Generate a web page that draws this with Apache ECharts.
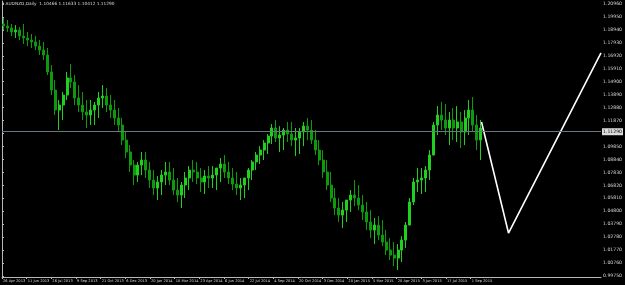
<!DOCTYPE html>
<html><head><meta charset="utf-8">
<script src="https://cdn.jsdelivr.net/npm/echarts@6/dist/echarts.min.js"></script>
<style>html,body{margin:0;padding:0;background:#000;}#c{width:625px;height:285px;}</style>
</head><body><div id="c"></div>
<script>
// Weekly OHLC (AUDNZD)
const weekOpen = [1.1940,1.1924,1.1909,1.1878,1.1893,1.1846,1.1831,1.1815,1.1800,1.1768,1.1737,1.1698,1.1566,1.1425,1.1269,1.1308,1.1386,1.1519,1.1488,1.1363,
1.1308,1.1254,1.1230,1.1269,1.1308,1.1363,1.1378,1.1308,1.1269,1.1207,1.1152,1.1035,1.0942,1.0840,1.0762,1.0840,1.0879,1.0801,1.0723,1.0661,
1.0708,1.0762,1.0786,1.0723,1.0645,1.0606,1.0684,1.0739,1.0801,1.0786,1.0739,1.0708,1.0754,1.0739,1.0762,1.0817,1.0848,1.0786,1.0739,1.0692,
1.0661,1.0684,1.0739,1.0801,1.0864,1.0918,1.0957,1.1012,1.1066,1.1129,1.1051,1.1074,1.1113,1.1082,1.1035,1.1051,1.1098,1.1144,1.1113,1.1035,
1.0957,1.0879,1.0786,1.0684,1.0583,1.0505,1.0450,1.0489,1.0567,1.0606,1.0583,1.0528,1.0474,1.0396,1.0333,1.0372,1.0294,1.0240,1.0177,1.0138,
1.0115,1.0177,1.0255,1.0372,1.0552,1.0708,1.0723,1.0739,1.0801,1.0918,1.1152,1.1230,1.1191,1.1129,1.1191,1.1129,1.1176,1.1098,1.1207,1.1269,
1.1152,1.1035];
const weekClose = [1.1924,1.1909,1.1878,1.1893,1.1846,1.1831,1.1815,1.1800,1.1768,1.1737,1.1698,1.1566,1.1425,1.1269,1.1308,1.1386,1.1519,1.1488,1.1363,1.1308,
1.1254,1.1230,1.1269,1.1308,1.1363,1.1378,1.1308,1.1269,1.1207,1.1152,1.1035,1.0942,1.0840,1.0762,1.0840,1.0879,1.0801,1.0723,1.0661,1.0708,
1.0762,1.0786,1.0723,1.0645,1.0606,1.0684,1.0739,1.0801,1.0786,1.0739,1.0708,1.0754,1.0739,1.0762,1.0817,1.0848,1.0786,1.0739,1.0692,1.0661,
1.0684,1.0739,1.0801,1.0864,1.0918,1.0957,1.1012,1.1066,1.1129,1.1051,1.1074,1.1113,1.1082,1.1035,1.1051,1.1098,1.1144,1.1113,1.1035,1.0957,
1.0879,1.0786,1.0684,1.0583,1.0505,1.0450,1.0489,1.0567,1.0606,1.0583,1.0528,1.0474,1.0396,1.0333,1.0372,1.0294,1.0240,1.0177,1.0138,1.0115,
1.0177,1.0255,1.0372,1.0552,1.0708,1.0723,1.0739,1.0801,1.0918,1.1152,1.1230,1.1191,1.1129,1.1191,1.1129,1.1176,1.1098,1.1207,1.1269,1.1152,
1.1035,1.1129];
const weekLow = [1.1893,1.1878,1.1846,1.1831,1.1815,1.1784,1.1768,1.1753,1.1737,1.1698,1.1659,1.1542,1.1386,1.1230,1.1113,1.1191,1.1347,1.1441,1.1308,1.1254,
1.1191,1.1129,1.1152,1.1152,1.1207,1.1285,1.1254,1.1207,1.1152,1.1098,1.0996,1.0895,1.0786,1.0684,1.0708,1.0762,1.0739,1.0661,1.0606,1.0567,
1.0606,1.0684,1.0684,1.0606,1.0552,1.0505,1.0583,1.0645,1.0708,1.0692,1.0630,1.0614,1.0661,1.0661,1.0645,1.0708,1.0739,1.0692,1.0645,1.0606,
1.0567,1.0583,1.0645,1.0723,1.0801,1.0848,1.0879,1.0926,1.1004,1.1020,1.0942,1.0957,1.1020,1.0988,1.0910,1.0926,1.0988,1.1035,1.1004,1.0918,
1.0840,1.0739,1.0645,1.0552,1.0450,1.0396,1.0349,1.0396,1.0474,1.0520,1.0489,1.0411,1.0333,1.0271,1.0224,1.0255,1.0208,1.0138,1.0099,1.0052,
1.0021,1.0084,1.0193,1.0372,1.0528,1.0630,1.0614,1.0630,1.0723,1.0918,1.1074,1.1113,1.1074,1.0996,1.1035,1.1020,1.0973,1.0996,1.1074,1.1098,
1.0957,1.0879];
const weekHigh = [1.1987,1.1971,1.1940,1.1932,1.1917,1.1940,1.1878,1.1862,1.1846,1.1815,1.1800,1.1753,1.1620,1.1503,1.1347,1.1410,1.1566,1.1628,1.1542,1.1464,
1.1410,1.1347,1.1347,1.1332,1.1410,1.1464,1.1441,1.1386,1.1347,1.1285,1.1207,1.1098,1.0996,1.0879,1.0864,1.0942,1.0942,1.0864,1.0801,1.0754,
1.0801,1.0864,1.0864,1.0817,1.0739,1.0708,1.0786,1.0832,1.0879,1.0864,1.0817,1.0801,1.0832,1.0832,1.0817,1.0895,1.0918,1.0864,1.0817,1.0786,
1.0739,1.0739,1.0817,1.0879,1.0942,1.0988,1.1035,1.1082,1.1160,1.1191,1.1144,1.1129,1.1176,1.1176,1.1129,1.1129,1.1176,1.1207,1.1191,1.1113,
1.1035,1.0957,1.0879,1.0786,1.0661,1.0583,1.0552,1.0567,1.0645,1.0723,1.0684,1.0606,1.0552,1.0489,1.0427,1.0442,1.0411,1.0333,1.0271,1.0240,
1.0224,1.0286,1.0396,1.0583,1.0739,1.0817,1.0817,1.0832,1.0957,1.1176,1.1300,1.1332,1.1316,1.1254,1.1285,1.1300,1.1254,1.1269,1.1347,1.1371,
1.1230,1.1191];
const weekSlots = Array.from({length: 152}, (_, i) => 'W' + (i + 1));
const dateLabels = ['26 Apr 2013','11 Jun 2013','26 Jul 2013','9 Sep 2013','21 Oct 2013','6 Dec 2013','20 Jan 2014','10 Mar 2014','23 Apr 2014','6 Jun 2014',
'22 Jul 2014','4 Sep 2014','20 Oct 2014','3 Dec 2014','20 Jan 2015','5 Mar 2015','20 Apr 2015','3 Jun 2015','17 Jul 2015','1 Sep 2015'];
const dateTickDays = [0,32,64,96,128,160,192,224,256,288,320,352,384,416,448,480,512,544,576,608];
const priceLabels = [0.99750,1.00760,1.01770,1.02780,1.03790,1.04800,1.05810,1.06820,1.07830,1.08840,1.09850,1.10860,1.11870,1.12880,1.13890,1.14900,1.15910,1.16920,1.17930,1.18940,1.19950,1.20960];
const lastPrice = 1.11290;
// projection path: [trading-day index, price]
const projection = [[622, 1.1176], [657, 1.0310], [777, 1.1714]];

const ohlc = weekOpen.map((o, i) => [o, weekClose[i], weekLow[i], weekHigh[i]]);
const chart = echarts.init(document.getElementById('c'), null, {renderer: 'canvas'});
const txt = '#d8d8d8', axisCol = '#b8b8b8', fs = 4.6, fsx = 3.6;
chart.setOption({
  backgroundColor: '#000',
  animation: false,
  grid: {left: 0, right: 18, top: 1, bottom: 8},
  graphic: [{type: 'text', left: 2, top: 2, style: {text: '\u25BE AUDNZD,Daily  1.10466 1.11633 1.10412 1.11290', fill: txt, fontSize: 4.3, fontFamily: 'DejaVu Sans'}}],
  xAxis: [
    {type: 'category', data: weekSlots, boundaryGap: true, show: false},
    {type: 'value', min: 0, max: 777, position: 'bottom',
     axisLine: {show: true, lineStyle: {color: axisCol, width: 1}},
     axisTick: {show: true, length: 2, customValues: dateTickDays, lineStyle: {color: axisCol}},
     splitLine: {show: false},
     axisLabel: {customValues: dateTickDays, formatter: v => dateLabels[dateTickDays.indexOf(v)] || '', color: txt, fontSize: fsx, fontFamily: 'DejaVu Sans', align: 'left', margin: 2, padding: [0,0,0,1], showMinLabel: true, hideOverlap: false}}
  ],
  yAxis: {type: 'value', position: 'right', min: 0.99672, max: 1.21194, scale: true,
    axisLine: {show: true, lineStyle: {color: axisCol, width: 1}},
    axisTick: {show: true, length: 2, customValues: priceLabels, lineStyle: {color: axisCol}},
    splitLine: {show: false},
    axisLabel: {customValues: priceLabels, formatter: v => v.toFixed(5), color: txt, fontSize: fs, fontFamily: 'DejaVu Sans', margin: 2, showMinLabel: true, showMaxLabel: true}},
  series: [
    {type: 'candlestick', xAxisIndex: 0, yAxisIndex: 0, data: ohlc, barWidth: 2.5,
     itemStyle: {color: '#1fd01f', color0: '#0d9a0d', borderColor: '#1fd01f', borderColor0: '#0d9a0d', borderWidth: 1},
     markLine: {silent: true, symbol: ['none', 'none'],
       data: [{yAxis: lastPrice, lineStyle: {color: '#6a7686', width: 1, type: 'solid', opacity: 1}}],
       lineStyle: {color: '#6a7686', width: 1, type: 'solid'},
       emphasis: {disabled: true},
       label: {position: 'end', formatter: lastPrice.toFixed(5), backgroundColor: '#dcdcdc', color: '#000', fontSize: fs, fontFamily: 'DejaVu Sans', padding: [1, 1], distance: 1}}},
    {type: 'line', xAxisIndex: 1, yAxisIndex: 0, data: projection, showSymbol: false, symbol: 'none',
     lineStyle: {color: '#ffffff', width: 1.6}}
  ]
});
</script></body></html>
